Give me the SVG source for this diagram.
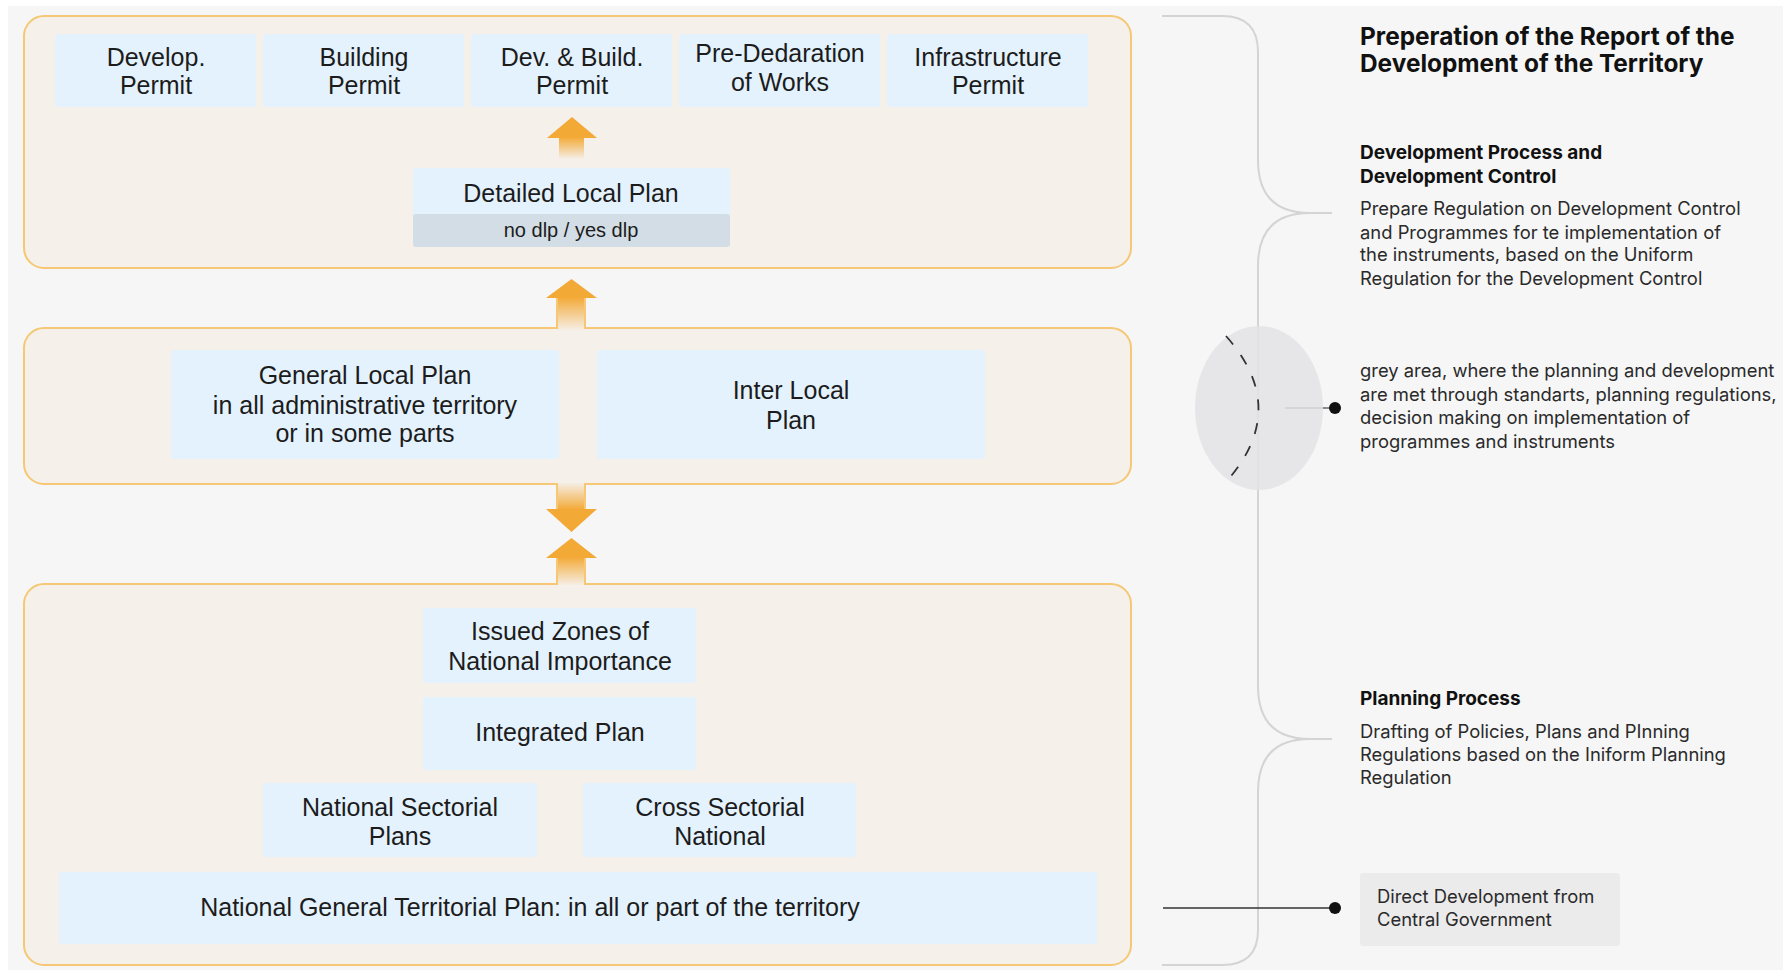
<svg xmlns="http://www.w3.org/2000/svg" width="1783" height="970" viewBox="0 0 1783 970">
<defs>
<linearGradient id="gUp" x1="0" y1="0" x2="0" y2="1"><stop offset="0" stop-color="#f3a936"/><stop offset="1" stop-color="#f6eee4"/></linearGradient>
<linearGradient id="gDown" x1="0" y1="0" x2="0" y2="1"><stop offset="0" stop-color="#f6eee4"/><stop offset="1" stop-color="#f3a936"/></linearGradient>
<linearGradient id="gSmall" x1="0" y1="0" x2="0" y2="1"><stop offset="0" stop-color="#f3a936"/><stop offset="1" stop-color="#f5efe8"/></linearGradient>
</defs>
<style>
.panel{fill:#f5f0ea;stroke:#f6c774;stroke-width:2}
.box{fill:#e4f2fd}
.strip{fill:#d2dde5}
.t{font-family:"Liberation Sans",Arial,sans-serif;font-size:25px;fill:#1c1c1c;text-anchor:middle}
.ts{font-family:"Liberation Sans",Arial,sans-serif;font-size:20px;fill:#1c1c1c;text-anchor:middle}
.r{font-family:Inter,"Liberation Sans",sans-serif;font-size:18.4px;fill:#2a2a2a}
.h{font-family:Inter,"Liberation Sans",sans-serif;font-size:19px;font-weight:bold;fill:#111}
.title{font-family:Inter,"Liberation Sans",sans-serif;font-size:24.4px;font-weight:bold;fill:#111}
.ah{fill:#f3a936}
.edge{stroke:#f6c774;stroke-width:2}
</style>
<rect width="1783" height="970" fill="#ffffff"/>
<rect x="8" y="6" width="1775" height="964" fill="#f6f6f6"/>

<g id="panel-development">
<rect class="panel" x="24" y="16" width="1107" height="252" rx="20"/>
</g>
<g id="panel-local">
<rect class="panel" x="24" y="328" width="1107" height="156" rx="20"/>
</g>
<g id="panel-national">
<rect class="panel" x="24" y="584" width="1107" height="381" rx="20"/>
</g>

<g id="connectors">
<rect x="559" y="137" width="25" height="22" fill="url(#gSmall)"/>
<polygon class="ah" points="547,138 597,138 572,117"/>
<rect x="557" y="297" width="28" height="33" fill="url(#gUp)"/>
<line class="edge" x1="557" y1="298" x2="557" y2="329"/>
<line class="edge" x1="585" y1="298" x2="585" y2="329"/>
<polygon class="ah" points="546,298 597,298 571.5,279"/>
<rect x="557" y="483" width="28" height="27" fill="url(#gDown)"/>
<line class="edge" x1="557" y1="483" x2="557" y2="509"/>
<line class="edge" x1="585" y1="483" x2="585" y2="509"/>
<polygon class="ah" points="546,509 597,509 571.5,532"/>
<rect x="557" y="557" width="28" height="28" fill="url(#gUp)"/>
<line class="edge" x1="557" y1="558" x2="557" y2="585"/>
<line class="edge" x1="585" y1="558" x2="585" y2="585"/>
<polygon class="ah" points="546,558 597,558 571.5,538"/>
<path d="M1162,16 H1222 Q1258,16 1258,52 V160 Q1258,213 1310,213 H1332 M1310,213 Q1258,213 1258,266 V686 Q1258,739 1310,739 H1332 M1310,739 Q1258,739 1258,792 V930 Q1258,965 1222,965 H1162" fill="none" stroke="#d4d4d4" stroke-width="2"/>
<line x1="1285" y1="408" x2="1334" y2="408" stroke="#8a8a8a" stroke-width="2"/>
<circle cx="1335" cy="408" r="6" fill="#111"/>
<line x1="1163" y1="908" x2="1334" y2="908" stroke="#333" stroke-width="1.5"/>
<circle cx="1335" cy="908" r="6" fill="#111"/>
</g>

<g id="develop-permit"><rect class="box" x="55" y="34" width="201" height="73" rx="3"/><text class="t" x="156" y="66">Develop.</text><text class="t" x="156" y="94">Permit</text></g>
<g id="building-permit"><rect class="box" x="263" y="34" width="201" height="73" rx="3"/><text class="t" x="364" y="66">Building</text><text class="t" x="364" y="94">Permit</text></g>
<g id="dev-build-permit"><rect class="box" x="471" y="34" width="201" height="73" rx="3"/><text class="t" x="572" y="66">Dev. &amp; Build.</text><text class="t" x="572" y="94">Permit</text></g>
<g id="pre-declaration"><rect class="box" x="679" y="34" width="201" height="73" rx="3"/><text class="t" x="780" y="62">Pre-Dedaration</text><text class="t" x="780" y="91">of Works</text></g>
<g id="infrastructure-permit"><rect class="box" x="887" y="34" width="201" height="73" rx="3"/><text class="t" x="988" y="66">Infrastructure</text><text class="t" x="988" y="94">Permit</text></g>

<g id="detailed-local-plan"><rect class="box" x="413" y="168" width="317" height="50" rx="3"/><rect class="strip" x="413" y="214" width="317" height="33" rx="3"/><text class="t" x="571" y="202">Detailed Local Plan</text><text class="ts" x="571" y="237">no dlp / yes dlp</text></g>

<g id="general-local-plan"><rect class="box" x="171" y="350" width="388" height="109" rx="3"/><text class="t" x="365" y="384">General Local Plan</text><text class="t" x="365" y="414">in all administrative territory</text><text class="t" x="365" y="442">or in some parts</text></g>
<g id="inter-local-plan"><rect class="box" x="597" y="350" width="388" height="109" rx="3"/><text class="t" x="791" y="399">Inter Local</text><text class="t" x="791" y="429">Plan</text></g>

<g id="issued-zones"><rect class="box" x="423" y="608" width="273" height="75" rx="3"/><text class="t" x="560" y="640">Issued Zones of</text><text class="t" x="560" y="670">National Importance</text></g>
<g id="integrated-plan"><rect class="box" x="423" y="697" width="273" height="73" rx="3"/><text class="t" x="560" y="741">Integrated Plan</text></g>
<g id="national-sectorial"><rect class="box" x="263" y="783" width="274" height="74" rx="3"/><text class="t" x="400" y="816">National Sectorial</text><text class="t" x="400" y="845">Plans</text></g>
<g id="cross-sectorial"><rect class="box" x="583" y="783" width="273" height="74" rx="3"/><text class="t" x="720" y="816">Cross Sectorial</text><text class="t" x="720" y="845">National</text></g>
<g id="national-general"><rect class="box" x="59" y="872" width="1038" height="72" rx="3"/><text class="t" x="530" y="916">National General Territorial Plan: in all or part of the territory</text></g>

<g id="grey-area"><ellipse cx="1259" cy="408" rx="64" ry="82" fill="#e3e3e5" fill-opacity="0.85"/><path d="M1226,336 Q1291,409 1226,482" fill="none" stroke="#333" stroke-width="1.8" stroke-dasharray="11 13"/></g>

<g id="title"><text class="title" x="1360" y="45">Preperation of the Report of the</text><text class="title" x="1360" y="72">Development of the Territory</text></g>
<g id="development-process"><text class="h" x="1360" y="159">Development Process and</text><text class="h" x="1360" y="183">Development Control</text>
<text class="r" x="1360" y="215">Prepare Regulation on Development Control</text>
<text class="r" x="1360" y="239">and Programmes for te implementation of</text>
<text class="r" x="1360" y="261">the instruments, based on the Uniform</text>
<text class="r" x="1360" y="285">Regulation for the Development Control</text></g>
<g id="grey-area-text"><text class="r" x="1360" y="377">grey area, where the planning and development</text>
<text class="r" x="1360" y="401">are met through standarts, planning regulations,</text>
<text class="r" x="1360" y="424">decision making on implementation of</text>
<text class="r" x="1360" y="448">programmes and instruments</text></g>
<g id="planning-process"><text class="h" x="1360" y="705">Planning Process</text>
<text class="r" x="1360" y="738">Drafting of Policies, Plans and PInning</text>
<text class="r" x="1360" y="761">Regulations based on the Iniform Planning</text>
<text class="r" x="1360" y="784">Regulation</text></g>
<g id="direct-development"><rect x="1360" y="873" width="260" height="73" rx="3" fill="#ebebec"/><text class="r" x="1377" y="903">Direct Development from</text><text class="r" x="1377" y="926">Central Government</text></g>
</svg>
